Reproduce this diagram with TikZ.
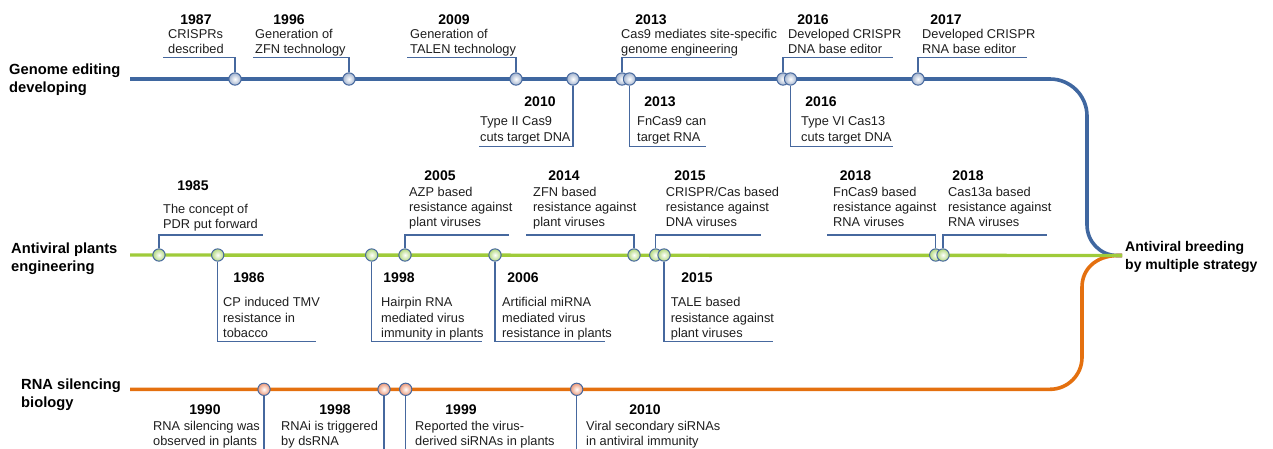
\documentclass[tikz,border=0pt]{standalone}
\usepackage{fontspec}
\setmainfont{Liberation Sans}
\definecolor{lineblue}{HTML}{3F67A0}
\definecolor{callblue}{HTML}{46689E}
\definecolor{linegreen}{HTML}{9FCB3A}
\definecolor{lineorange}{HTML}{E4700F}
\definecolor{fillblue}{HTML}{A3B4CF}
\definecolor{fillgreen}{HTML}{B3D97F}
\definecolor{fillorange}{HTML}{EC9878}
\definecolor{txtgray}{HTML}{1E1E1E}
\begin{document}
\begin{tikzpicture}[x=1pt,y=-1pt,
  yr/.style={font=\fontsize{14}{16}\selectfont\bfseries, anchor=base, inner sep=0pt, text=black},
  txt/.style={font=\fontsize{12.8}{15.4}\selectfont, align=left, anchor=base west, inner sep=0pt, text=txtgray},
  lbl/.style={font=\fontsize{14.7}{18}\selectfont\bfseries, align=left, anchor=base west, inner sep=0pt},
  dot/.style={circle, draw=callblue, line width=1pt, minimum size=12.3pt, inner sep=0pt, shading=radial, inner color=white},
  dotb/.style={dot, outer color=fillblue},
  dotg/.style={dot, outer color=fillgreen},
  doto/.style={dot, outer color=fillorange},
  call/.style={draw=callblue, line width=1.2pt},
  mainline/.style={line width=3.6pt},
]
\useasboundingbox (0,0) rectangle (1273,448);

% row labels (anchor at the baseline of the last line)
\node[lbl] (lgen) at (9,92.5) {Genome editing\\developing};
\node[lbl] (lanti) at (11,271.7) {Antiviral plants\\engineering};
\node[lbl] (lrna) at (21,407.5) {RNA silencing\\biology};
\node[lbl, font=\fontsize{14}{17.6}\selectfont\bfseries] (lbreed) at (1125,269.3) {Antiviral breeding\\by multiple strategy};

% main lines
\coordinate (bstart) at (130,79);
\coordinate (gstart) at (130,255);
\coordinate (ostart) at (130,389.3);
\coordinate (merge) at (1122,255.5);
\draw[mainline, draw=lineblue] (bstart) -- (1050,79) .. controls (1070.4,79) and (1087,95.6) .. (1087,116) -- (1087,225) .. controls (1087,241.6) and (1100.4,255.5) .. (1117,255.5) -- (merge);
\draw[mainline, draw=lineorange] (ostart) -- (1050,389.3) .. controls (1067.7,389.3) and (1082,375) .. (1082,357.3) -- (1082,287) .. controls (1082,269) and (1096,256) .. (1117,255.5) -- (merge);
\draw[line width=3.4pt, draw=linegreen] (gstart) -- (merge);

% ---------- Genome editing (blue) ----------
\node[dotb] (b1) at (235,79) {};
\node[dotb] (b2) at (349,79) {};
\node[dotb] (b3) at (516,79) {};
\node[dotb] (b4) at (573,79) {};
\node[dotb] (b5) at (622,79) {};
\node[dotb] (b6) at (629.5,79) {};
\node[dotb] (b7) at (783,79) {};
\node[dotb] (b8) at (790.5,79) {};
\node[dotb] (b9) at (918,79) {};

\coordinate (b1e) at (163,57.7);
\coordinate (b2e) at (253,57.7);
\coordinate (b3e) at (407,57.7);
\coordinate (b4e) at (479,146.7);
\coordinate (b5e) at (732,57.7);
\coordinate (b6e) at (706,146.7);
\coordinate (b7e) at (893,57.7);
\coordinate (b8e) at (893,146.7);
\coordinate (b9e) at (1027,57.7);
\draw[call] (b1.north) |- (b1e);
\draw[call] (b2.north) |- (b2e);
\draw[call] (b3.north) |- (b3e);
\draw[call] (b4.south) |- (b4e);
\draw[call] (b5.north) |- (b5e);
\draw[call] (b6.south) |- (b6e);
\draw[call] (b7.north) |- (b7e);
\draw[call] (b8.south) |- (b8e);
\draw[call] (b9.north) |- (b9e);

\node[yr] (y1) at (196,24) {1987};
\node[txt] (t1) at (168,53.7) {CRISPRs\\described};
\node[yr] (y2) at (289,24) {1996};
\node[txt] (t2) at (255,53.7) {Generation of\\ZFN technology};
\node[yr] (y3) at (454,24) {2009};
\node[txt] (t3) at (410,53.7) {Generation of\\TALEN technology};
\node[yr] (y4) at (540,106.7) {2010};
\node[txt] (t4) at (480,141.1) {Type II Cas9\\cuts target DNA};
\node[yr] (y5) at (651,24) {2013};
\node[txt] (t5) at (621,53.7) {Cas9 mediates site-specific\\genome engineering};
\node[yr] (y6) at (660,106.7) {2013};
\node[txt] (t6) at (637,141.1) {FnCas9 can\\target RNA};
\node[yr] (y7) at (813,24) {2016};
\node[txt] (t7) at (788,53.7) {Developed CRISPR\\DNA base editor};
\node[yr] (y8) at (821,106.7) {2016};
\node[txt] (t8) at (801,141.1) {Type VI Cas13\\cuts target DNA};
\node[yr] (y9) at (946,24) {2017};
\node[txt] (t9) at (922,53.7) {Developed CRISPR\\RNA base editor};

% ---------- Antiviral plants engineering (green) ----------
\node[dotg] (g1) at (159,255) {};
\node[dotg] (g2) at (217.7,255) {};
\node[dotg] (g3) at (371.7,255) {};
\node[dotg] (g4) at (405,255) {};
\node[dotg] (g5) at (495,255) {};
\node[dotg] (g6) at (634,255) {};
\node[dotg] (g7) at (655.7,255) {};
\node[dotg] (g8) at (664,255) {};
\node[dotg] (g9) at (935.7,255) {};
\node[dotg] (g10) at (943,255) {};

\coordinate (g1e) at (263,235);
\coordinate (g2e) at (316,341.7);
\coordinate (g3e) at (482,341.7);
\coordinate (g4e) at (509,235);
\coordinate (g5e) at (605,341.7);
\coordinate (g6e) at (526,235);
\coordinate (g7e) at (761,235);
\coordinate (g8e) at (773,341.7);
\coordinate (g9e) at (827,235);
\coordinate (g10e) at (1047,235);
\draw[call] (g1.north) |- (g1e);
\draw[call] (g2.south) |- (g2e);
\draw[call] (g3.south) |- (g3e);
\draw[call] (g4.north) |- (g4e);
\draw[call] (g5.south) |- (g5e);
\draw[call] (g6.north) |- (g6e);
\draw[call] (g7.north) |- (g7e);
\draw[call] (g8.south) |- (g8e);
\draw[call] (g9.north) |- (g9e);
\draw[call] (g10.north) |- (g10e);

\node[yr] (z1) at (193,190) {1985};
\node[txt] (s1) at (163,228.7) {The concept of\\PDR put forward};
\node[yr] (z2) at (249,282.7) {1986};
\node[txt] (s2) at (223,337.5) {CP induced TMV\\resistance in\\tobacco};
\node[yr] (z3) at (399,282.7) {1998};
\node[txt] (s3) at (381,337.5) {Hairpin RNA\\mediated virus\\immunity in plants};
\node[yr] (z4) at (440,180) {2005};
\node[txt] (s4) at (409,226.8) {AZP based\\resistance against\\plant viruses};
\node[yr] (z5) at (523,282.7) {2006};
\node[txt] (s5) at (502,337.5) {Artificial miRNA\\mediated virus\\resistance in plants};
\node[yr] (z6) at (564,180) {2014};
\node[txt] (s6) at (533,226.8) {ZFN based\\resistance against\\plant viruses};
\node[yr] (z7) at (690,180) {2015};
\node[txt] (s7) at (665.7,226.8) {CRISPR/Cas based\\resistance against\\DNA viruses};
\node[yr] (z8) at (697,282.7) {2015};
\node[txt] (s8) at (670.7,337.5) {TALE based\\resistance against\\plant viruses};
\node[yr] (z9) at (855.5,180) {2018};
\node[txt] (s9) at (833,226.8) {FnCas9 based\\resistance against\\RNA viruses};
\node[yr] (z10) at (968,180) {2018};
\node[txt] (s10) at (948,226.8) {Cas13a based\\resistance against\\RNA viruses};

% ---------- RNA silencing biology (orange) ----------
\node[doto] (o1) at (264,389.3) {};
\node[doto] (o2) at (384,389.3) {};
\node[doto] (o3) at (405.7,389.3) {};
\node[doto] (o4) at (576.7,389.3) {};
\coordinate (o1e) at (264,449);
\coordinate (o2e) at (384,449);
\coordinate (o3e) at (405.7,449);
\coordinate (o4e) at (576.7,449);
\draw[call] (o1.south) -- (o1e);
\draw[call] (o2.south) -- (o2e);
\draw[call] (o3.south) -- (o3e);
\draw[call] (o4.south) -- (o4e);

\node[yr] (w1) at (205,414) {1990};
\node[txt] (r1) at (153,445.4) {RNA silencing was\\observed in plants};
\node[yr] (w2) at (335,414) {1998};
\node[txt] (r2) at (281,445.4) {RNAi is triggered\\by dsRNA};
\node[yr] (w3) at (461,414) {1999};
\node[txt] (r3) at (415,445.4) {Reported the virus-\\derived siRNAs in plants};
\node[yr] (w4) at (645,414) {2010};
\node[txt] (r4) at (586,445.4) {Viral secondary siRNAs\\in antiviral immunity};
\end{tikzpicture}
\end{document}
